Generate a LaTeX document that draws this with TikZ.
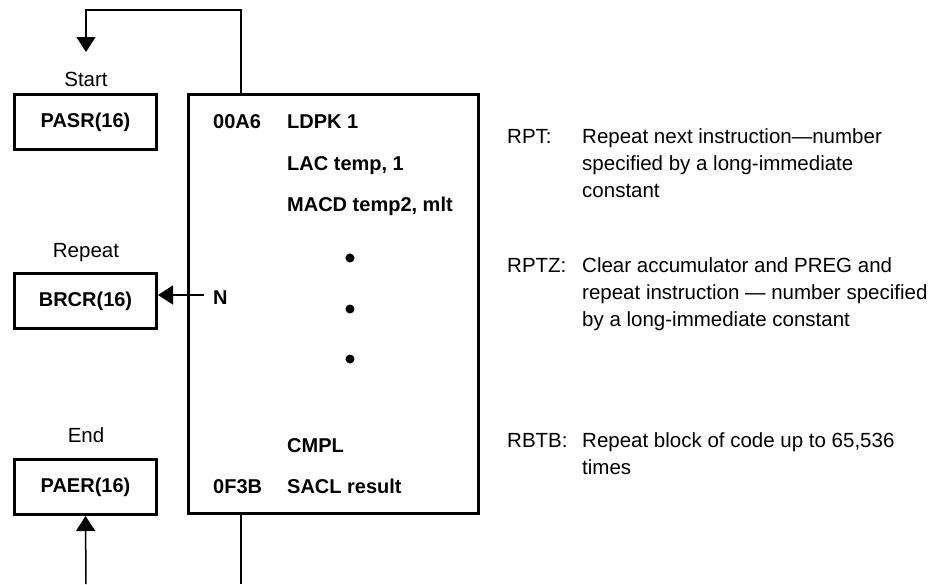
\documentclass[tikz,border=0pt]{standalone}
\usepackage{fontspec}
\setmainfont{Liberation Sans}
\usetikzlibrary{arrows.meta}
\begin{document}
\begin{tikzpicture}[x=1pt,y=-1pt,
 reg/.style={draw,line width=3pt,minimum width=142pt,minimum height=55pt,font=\fontsize{20}{24}\selectfont\bfseries,inner sep=0pt},
 lbl/.style={font=\fontsize{20.5}{24}\selectfont,inner sep=0pt,anchor=base},
 code/.style={font=\fontsize{20}{24}\selectfont\bfseries,inner sep=0pt,anchor=base west},
 desc/.style={font=\fontsize{20.5}{24}\selectfont,inner sep=0pt,anchor=base west},
 dot/.style={circle,fill,inner sep=0pt,minimum size=9pt},
 conn/.style={line width=1.5pt},
 tip/.style={-{Triangle[length=15pt,width=19pt]}}
]
\useasboundingbox (0,0) rectangle (942,584);

% registers
\node[reg] (pasr) at (85.5,122) {PASR(16)};
\node[reg] (brcr) at (85.5,301) {BRCR(16)};
\node[reg] (paer) at (85.5,487) {PAER(16)};
\node[lbl] (start) at (86,86) {Start};
\node[lbl] (repeat) at (86,257) {Repeat};
\node[lbl] (end) at (86,442) {End};

% program block
\node[draw,line width=3pt,minimum width=290pt,minimum height=419pt,inner sep=0pt] (prog) at (333.5,304) {};
\node[code] (a1) at (213,128) {00A6};
\node[code] (c1) at (287,128) {LDPK 1};
\node[code] (c2) at (287,170) {LAC temp, 1};
\node[code] (c3) at (287,211) {MACD temp2, mlt};
\node[dot] (d1) at (350,258) {};
\node[dot] (d2) at (350,309) {};
\node[dot] (d3) at (350,359) {};
\node[code] (c4) at (287,452) {CMPL};
\node[code] (a2) at (213,493) {0F3B};
\node[code] (c5) at (287,493) {SACL result};
\node[code] (n) at (213,304) {N};

% connectors
\coordinate (px) at (241,0);
\coordinate (top) at (86,10);
\coordinate (sa) at (86,52);
\coordinate (ns) at (204,295);
\coordinate (pb) at (86,584);
\draw[conn,tip] (prog.north -| px) |- (top) -- (sa);
\draw[conn,tip] (ns) -- (ns -| brcr.east);
\draw[conn,tip] (pb) -- (paer.south);
\draw[conn] (prog.south -| px) -- (px |- pb);

% descriptions
\node[desc] (r1) at (507,143) {RPT:};
\node[desc] (r1a) at (582,143) {Repeat next instruction—number};
\node[desc] (r1b) at (582,170) {specified by a long-immediate};
\node[desc] (r1c) at (582,197) {constant};
\node[desc] (r2) at (507,272) {RPTZ:};
\node[desc] (r2a) at (582,272) {Clear accumulator and PREG and};
\node[desc] (r2b) at (582,299) {repeat instruction — number specified};
\node[desc] (r2c) at (582,326) {by a long-immediate constant};
\node[desc] (r3) at (507,447) {RBTB:};
\node[desc] (r3a) at (582,447) {Repeat block of code up to 65,536};
\node[desc] (r3b) at (582,474) {times};
\end{tikzpicture}
\end{document}
